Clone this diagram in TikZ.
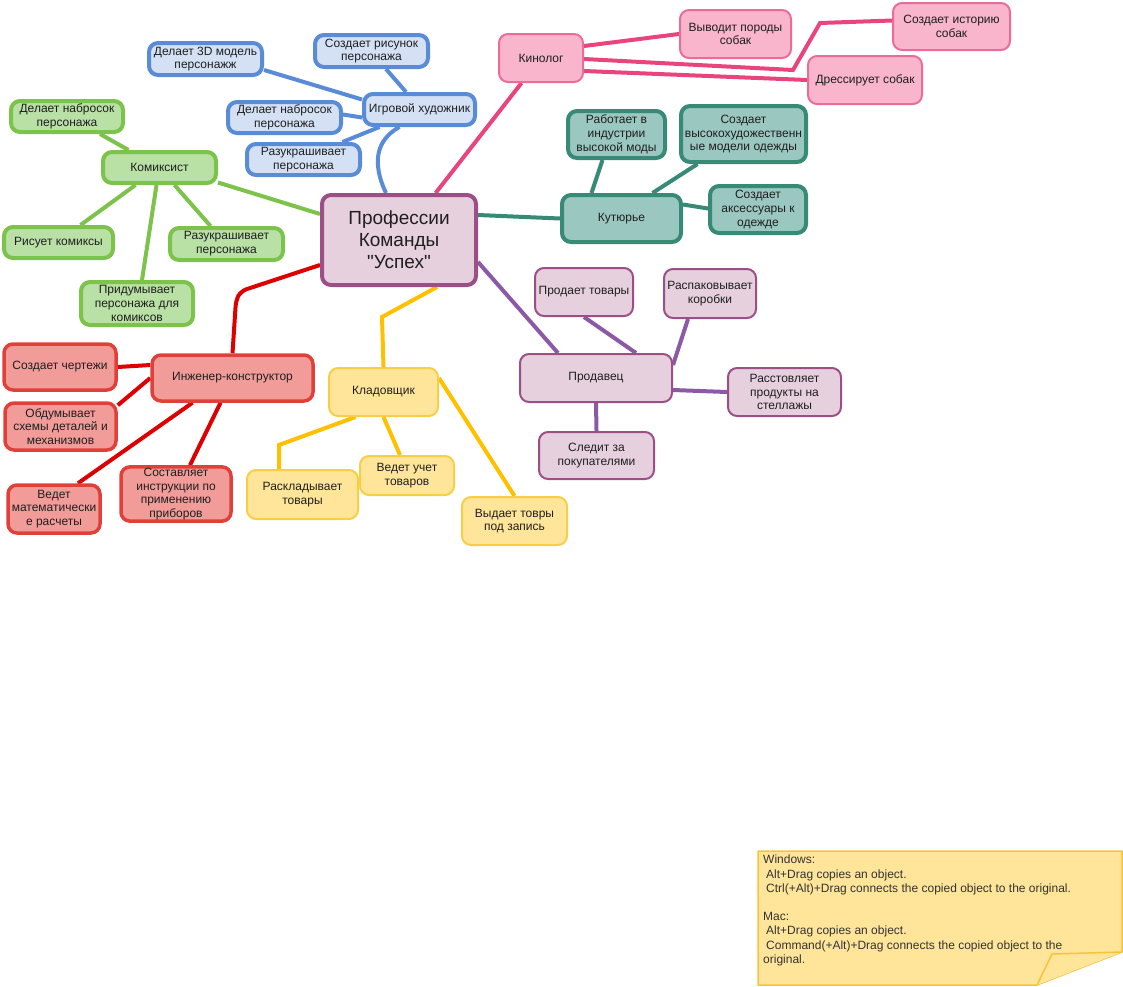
\documentclass[tikz,border=0pt]{standalone}
\usepackage{fontspec}
\setmainfont{Liberation Sans}[Ligatures=TeXOff]
\usetikzlibrary{backgrounds}

\definecolor{bluefill}{HTML}{D4E1F5}
\definecolor{blueline}{HTML}{5A8BD7}
\definecolor{greenfill}{HTML}{B9E0A5}
\definecolor{greenline}{HTML}{7DC24B}
\definecolor{redfill}{HTML}{F19C99}
\definecolor{redline}{HTML}{E0403A}
\definecolor{rededge}{HTML}{DD0000}
\definecolor{yellowfill}{HTML}{FFE599}
\definecolor{yellowline}{HTML}{F9CE47}
\definecolor{yellowedge}{HTML}{FFC000}
\definecolor{violetfill}{HTML}{E6D0DE}
\definecolor{violetline}{HTML}{9C4F87}
\definecolor{violetedge}{HTML}{8C59A6}
\definecolor{tealfill}{HTML}{9AC7BF}
\definecolor{tealline}{HTML}{368A76}
\definecolor{pinkfill}{HTML}{F8B5CB}
\definecolor{pinkline}{HTML}{EC6C98}
\definecolor{pinkedge}{HTML}{E9457C}
\definecolor{notefill}{HTML}{FFE599}
\definecolor{noteline}{HTML}{F7C33B}

\begin{document}
\begin{tikzpicture}[x=1pt, y=-1pt, line join=round,
    box/.style={rectangle, rounded corners=9pt, align=center, inner sep=1pt,
      font=\fontsize{12}{13.8}\selectfont, text=black!88},
    bluebox/.style={box, draw=blueline, fill=bluefill, line width=4pt},
    greenbox/.style={box, draw=greenline, fill=greenfill, line width=4pt},
    redbox/.style={box, draw=redline, fill=redfill, line width=3.5pt},
    yellowbox/.style={box, draw=yellowline, fill=yellowfill, line width=2pt},
    violetbox/.style={box, draw=violetline, fill=violetfill, line width=2pt},
    tealbox/.style={box, draw=tealline, fill=tealfill, line width=4pt},
    pinkbox/.style={box, draw=pinkline, fill=pinkfill, line width=2pt},
    link/.style={line width=4pt}]
  \useasboundingbox (0,0) rectangle (1123,986);

  % root
  \node[violetbox, line width=4pt, minimum width=154pt, minimum height=90pt,
    font=\fontsize{19}{22}\selectfont] (root) at (399,240) {Профессии\\Команды\\"Успех"};

  % game artist
  \node[bluebox, minimum width=111pt, minimum height=31pt] (igr) at (419.5,109.5) {Игровой художник};
  \node[bluebox, minimum width=113pt, minimum height=32pt] (model3d) at (205.5,59) {Делает 3D модель\\персонажж};
  \node[bluebox, minimum width=113pt, minimum height=32pt] (risunok) at (371.5,51) {Создает рисунок\\персонажа};
  \node[bluebox, minimum width=113pt, minimum height=31pt] (nabrosokB) at (284.5,117.5) {Делает набросок\\персонажа};
  \node[bluebox, minimum width=113pt, minimum height=31pt] (razukrB) at (303.5,159.5) {Разукрашивает\\персонажа};

  % comic artist
  \node[greenbox, minimum width=113pt, minimum height=31pt] (komiks) at (159.5,167.5) {Комиксист};
  \node[greenbox, minimum width=112pt, minimum height=31pt] (nabrosokG) at (67,116.5) {Делает набросок\\персонажа};
  \node[greenbox, minimum width=109pt, minimum height=31pt] (risuet) at (58.5,242.5) {Рисует комиксы};
  \node[greenbox, minimum width=113pt, minimum height=32pt] (razukrG) at (226.5,244) {Разукрашивает\\персонажа};
  \node[greenbox, minimum width=112pt, minimum height=43pt] (pridum) at (137,303.5) {Придумывает\\персонажа для\\комиксов};

  % engineer
  \node[redbox, minimum width=161pt, minimum height=46pt] (inzh) at (232.5,378) {Инженер-конструктор};
  \node[redbox, minimum width=112pt, minimum height=46pt] (chert) at (60,367) {Создает чертежи};
  \node[redbox, minimum width=111pt, minimum height=47pt] (obdum) at (60.5,426.5) {Обдумывает\\схемы деталей и\\механизмов};
  \node[redbox, minimum width=92pt, minimum height=48pt] (vedet) at (54,509) {Ведет\\математически\\е расчеты};
  \node[redbox, minimum width=110pt, minimum height=54pt] (sostav) at (176,494) {Составляет\\инструкции по\\применению\\приборов};

  % storekeeper
  \node[yellowbox, minimum width=109pt, minimum height=48pt] (klad) at (383.5,392) {Кладовщик};
  \node[yellowbox, minimum width=111pt, minimum height=49pt] (raskl) at (302.5,494.5) {Раскладывает\\товары};
  \node[yellowbox, minimum width=94pt, minimum height=39pt] (uchet) at (407,475.5) {Ведет учет\\товаров};
  \node[yellowbox, minimum width=105pt, minimum height=48pt] (vydaet) at (514.5,521) {Выдает товры\\под запись};

  % seller
  \node[violetbox, minimum width=152pt, minimum height=48pt] (prodav) at (596,378) {Продавец};
  \node[violetbox, minimum width=98pt, minimum height=48pt] (prodaet) at (584,292) {Продает товары};
  \node[violetbox, minimum width=92pt, minimum height=49pt] (raspak) at (710,293.5) {Распаковывает\\коробки};
  \node[violetbox, minimum width=113pt, minimum height=48pt] (rasst) at (784.5,392) {Расстовляет\\продукты на\\стеллажы};
  \node[violetbox, minimum width=115pt, minimum height=47pt] (sledit) at (596.5,455.5) {Следит за\\покупателями};

  % dog handler
  \node[pinkbox, minimum width=84pt, minimum height=48pt] (kinolog) at (541,58) {Кинолог};
  \node[pinkbox, minimum width=111pt, minimum height=48pt] (vyvodit) at (735.5,34) {Выводит породы\\собак};
  \node[pinkbox, minimum width=117pt, minimum height=47pt] (istoria) at (951.5,26.5) {Создает историю\\собак};
  \node[pinkbox, minimum width=114pt, minimum height=48pt] (dressir) at (865,80) {Дрессирует собак};

  % couturier
  \node[tealbox, minimum width=119pt, minimum height=47pt] (kutur) at (621.5,218.5) {Кутюрье};
  \node[tealbox, minimum width=97pt, minimum height=47pt] (rabotaet) at (616.5,134.5) {Работает в\\индустрии\\высокой моды};
  \node[tealbox, minimum width=125pt, minimum height=56pt] (vysokohud) at (743.5,134) {Создает\\высокохудожественн\\ые модели одежды};
  \node[tealbox, minimum width=96pt, minimum height=47pt] (aksess) at (758,209.5) {Создает\\аксессуары к\\одежде};

  \begin{scope}[on background layer]
    % blue
    \draw[link, blueline] ([xshift=-20pt]igr.south) .. controls (370,143) and (376,172) .. ([xshift=-13pt]root.north);
    \draw[link, blueline] ([yshift=-11pt]model3d.east) -- ([yshift=10pt]igr.west);
    \draw[link, blueline] ([xshift=14.5pt]risunok.south) -- ([xshift=-13.5pt]igr.north);
    \draw[link, blueline] ([yshift=3pt]nabrosokB.east) -- ([yshift=-8pt]igr.west);
    \draw[link, blueline] ([xshift=39pt]razukrB.north) -- ([xshift=-40pt]igr.south);
    % green
    \draw[link, greenline] ([yshift=-15pt]komiks.east) -- ([yshift=26pt]root.west);
    \draw[link, greenline] ([xshift=33pt]nabrosokG.south) -- ([xshift=-31pt]komiks.north);
    \draw[link, greenline] ([xshift=-24pt]komiks.south) -- ([xshift=22pt]risuet.north);
    \draw[link, greenline] ([xshift=-3pt]komiks.south) -- ([xshift=5pt]pridum.north);
    \draw[link, greenline] ([xshift=15pt]komiks.south) -- ([xshift=-16pt]razukrG.north);
    % red
    \draw[link, rededge, rounded corners=6pt] ([yshift=-25pt]root.west) -- (241,291) -- (236,300) -- (inzh.north);
    \draw[link, rededge] ([yshift=13pt]inzh.west) -- (chert.east);
    \draw[link, rededge] (inzh.west) -- ([yshift=-4pt]obdum.north east);
    \draw[link, rededge] ([xshift=-40pt]inzh.south) -- ([xshift=24pt]vedet.north);
    \draw[link, rededge] ([xshift=-12pt]inzh.south) -- ([xshift=14pt]sostav.north);
    % yellow
    \draw[link, yellowedge] ([xshift=38pt]root.south) -- (382,317) -- (klad.north);
    \draw[link, yellowedge] ([xshift=-28pt]klad.south) -- (279,445) -- ([xshift=-23.5pt]raskl.north);
    \draw[link, yellowedge] (klad.south) -- ([xshift=-7pt]uchet.north);
    \draw[link, yellowedge] ([yshift=14pt]klad.east) -- (vydaet.north);
    % violet
    \draw[link, violetedge] ([yshift=-22pt]root.east) -- ([xshift=-38pt]prodav.north);
    \draw[link, violetedge] (prodaet.south) -- ([xshift=40pt]prodav.north);
    \draw[link, violetedge] ([xshift=-22pt]raspak.south) -- ([yshift=13pt]prodav.east);
    \draw[link, violetedge] ([yshift=-12pt]prodav.east) -- (rasst.west);
    \draw[link, violetedge] (prodav.south) -- (sledit.north);
    % pink
    \draw[link, pinkedge] (root) -- (kinolog);
    \draw[link, pinkedge] ([yshift=12pt]kinolog.east) -- (vyvodit.west);
    \draw[link, pinkedge] ([yshift=-1pt]kinolog.east) -- (793,70) -- (820,23) -- ([yshift=6pt]istoria.west);
    \draw[link, pinkedge] ([yshift=-13pt]kinolog.east) -- (dressir.west);
    % teal
    \draw[link, tealline] ([yshift=25pt]root.east) -- (kutur.west);
    \draw[link, tealline] ([xshift=-30pt]kutur.north) -- ([xshift=-14pt]rabotaet.south);
    \draw[link, tealline] ([xshift=31pt]kutur.north) -- ([xshift=-46pt]vysokohud.south);
    \draw[link, tealline] ([yshift=14pt]kutur.east) -- ([yshift=1pt]aksess.west);
  \end{scope}

  % note
  \draw[fill=notefill, draw=noteline, line width=1.5pt] (758,851) -- (1122,851) -- (1122,952) -- (1037,985) -- (758,985) -- cycle;
  \draw[fill=notefill, draw=noteline, line width=1.5pt] (1037,985) -- (1052,954) -- (1122,952);
  \node[anchor=north west, align=left, inner sep=0pt, text=black!80,
    font=\fontsize{12}{14.2}\selectfont] (note) at (763,855)
    {Windows:\\
     \hspace*{3pt}Alt+Drag copies an object.\\
     \hspace*{3pt}Ctrl(+Alt)+Drag connects the copied object to the original.\\[14.2pt]
     Mac:\\
     \hspace*{3pt}Alt+Drag copies an object.\\
     \hspace*{3pt}Command(+Alt)+Drag connects the copied object to the\\
     original.};
\end{tikzpicture}
\end{document}
